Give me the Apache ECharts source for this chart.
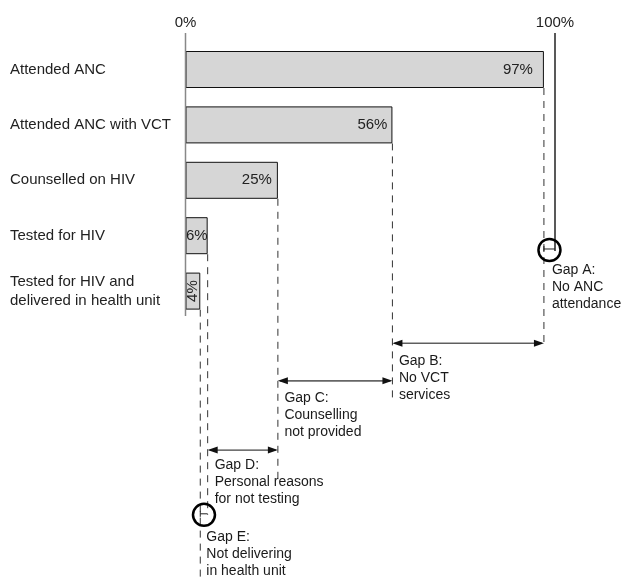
<!DOCTYPE html>
<html><head><meta charset="utf-8">
<script src="https://cdn.jsdelivr.net/npm/echarts@6/dist/echarts.min.js"></script>
<style>html,body{margin:0;padding:0;background:#fff}#c{width:629px;height:578px}</style>
</head><body><div id="c"></div>
<script>
// ---- data ----
const categories = ['Attended ANC', 'Attended ANC with VCT', 'Counselled on HIV', 'Tested for HIV', 'Tested for HIV and\ndelivered in health unit'];
const values = [97, 56, 25, 6, 4];
const valueLabels = ['97%', '56%', '25%', '6%', '4%'];
const axisTickValues = [0, 100];
const axisTickLabels = ['0%', '100%'];
const gapNames = ['Gap A:', 'Gap B:', 'Gap C:', 'Gap D:', 'Gap E:'];
const gapTexts = ['No ANC\nattendance', 'No VCT\nservices', 'Counselling\nnot provided', 'Personal reasons\nfor not testing', 'Not delivering\nin health unit'];
const gapFrom = [97, 56, 25, 6, 4];
const gapTo = [100, 97, 56, 25, 6];

// ---- layout (rows in category-band units, measured from the first bar centre) ----
const FONT = '"Liberation Sans", Arial, Helvetica, sans-serif';
const BAR_W = 37;
const LAYOUT = {
  topRow: -0.66,
  zeroLineEnd: 4.45,
  arrowRows: [3.24, 4.94, 5.62, 6.87, 8.02],
  labelRows: [3.62, 5.27, 5.93, 7.14, 8.45],
  labelDx: [8, 6.5, 6.5, 7, 6],
  dashEnds: [4.99, 6.0, 7.41, 8.04, 9.6],
  labelDist: [11, 5, 6, 0, 0],
  arrowColor: ['#111', '#111', '#666', '#111', '#111'],
  arrowWidth: [1, 1, 1.6, 1, 1]
};

function renderAnno(params, api) {
  const y0 = api.coord([0, 0])[1];
  const band = api.size([0, 1])[1];
  const X = v => api.coord([v, 0])[0];
  const Y = r => y0 + r * band;
  const kids = [];
  // reference lines at 0% and 100%
  kids.push({type: 'line', shape: {x1: X(axisTickValues[0]), y1: Y(LAYOUT.topRow), x2: X(axisTickValues[0]), y2: Y(LAYOUT.zeroLineEnd)},
    style: {stroke: '#888', lineWidth: 1.5}});
  kids.push({type: 'line', shape: {x1: X(axisTickValues[1]), y1: Y(LAYOUT.topRow), x2: X(axisTickValues[1]), y2: Y(LAYOUT.arrowRows[0]) + 2},
    style: {stroke: '#222', lineWidth: 1.5}});
  // dashed drop lines from bar ends
  values.forEach((v, i) => {
    kids.push({type: 'line', shape: {x1: X(v), y1: Y(i) + BAR_W / 2, x2: X(v), y2: Y(LAYOUT.dashEnds[i])},
      style: {stroke: '#333', lineWidth: 1, lineDash: [7, 6]}});
  });
  // gap arrows + labels
  gapFrom.forEach((f, i) => {
    const xa = X(f), xb = X(gapTo[i]), y = Y(LAYOUT.arrowRows[i]);
    const col = LAYOUT.arrowColor[i];
    if (xb - xa > 25) {
      kids.push({type: 'line', shape: {x1: xa + 2, y1: y, x2: xb - 2, y2: y}, style: {stroke: col, lineWidth: LAYOUT.arrowWidth[i]}});
      kids.push({type: 'polygon', shape: {points: [[xa, y], [xa + 10, y - 3.5], [xa + 10, y + 3.5]]}, style: {fill: '#111'}});
      kids.push({type: 'polygon', shape: {points: [[xb, y], [xb - 10, y - 3.5], [xb - 10, y + 3.5]]}, style: {fill: '#111'}});
    } else {
      kids.push({type: 'line', shape: {x1: xa, y1: y, x2: xb, y2: y}, style: {stroke: '#222', lineWidth: 1}});
      kids.push({type: 'line', shape: {x1: xa, y1: y - 3, x2: xa, y2: y + 3}, style: {stroke: '#222', lineWidth: 1}});
      kids.push({type: 'circle', shape: {cx: (xa + xb) / 2, cy: y + 1, r: 11}, style: {fill: 'none', stroke: '#000', lineWidth: 2.5}});
    }
    kids.push({type: 'text', style: {text: gapNames[i] + '\n' + gapTexts[i], x: xa + LAYOUT.labelDx[i], y: Y(LAYOUT.labelRows[i]) - 8.5,
      font: '14px ' + FONT, fill: '#1a1a1a', lineHeight: 17, verticalAlign: 'top', align: 'left'}});
  });
  return {type: 'group', children: kids};
}

const chart = echarts.init(document.getElementById('c'), null, {renderer: 'canvas'});
chart.setOption({
  animation: false,
  backgroundColor: '#fff',
  grid: {left: 185.5, right: 74, top: 41.8, height: 277, containLabel: false, outerBoundsMode: 'none'},
  xAxis: {
    type: 'value', position: 'top', min: 0, max: 100, interval: 100,
    axisLine: {show: false}, axisTick: {show: false}, splitLine: {show: false},
    axisLabel: {margin: 11, fontSize: 15, color: '#222', fontFamily: FONT,
      formatter: v => axisTickLabels[axisTickValues.indexOf(v)]}
  },
  yAxis: {
    type: 'category', inverse: true,
    data: categories.map((c, i) => i === categories.length - 1 ? {value: c, textStyle: {align: 'left', padding: [0, 0, 8, 0]}} : c),
    axisLine: {show: false}, axisTick: {show: false},
    axisLabel: {align: 'left', margin: 175.5, fontSize: 15, color: '#222', fontFamily: FONT, lineHeight: 19}
  },
  series: [
    {
      type: 'bar', barWidth: BAR_W,
      itemStyle: {color: '#d6d6d6', borderColor: '#111', borderWidth: 1},
      data: values.map((v, i) => ({
        value: v,
        label: i === values.length - 1 ? {position: 'inside', rotate: 90} : {position: 'insideRight', distance: LAYOUT.labelDist[i]}
      })),
      label: {show: true, fontSize: 15, color: '#222', fontFamily: FONT, formatter: p => valueLabels[p.dataIndex]}
    },
    {
      type: 'custom', clip: false, silent: true, z: 5,
      data: [[0, 0]],
      renderItem: renderAnno
    }
  ]
});
</script></body></html>
